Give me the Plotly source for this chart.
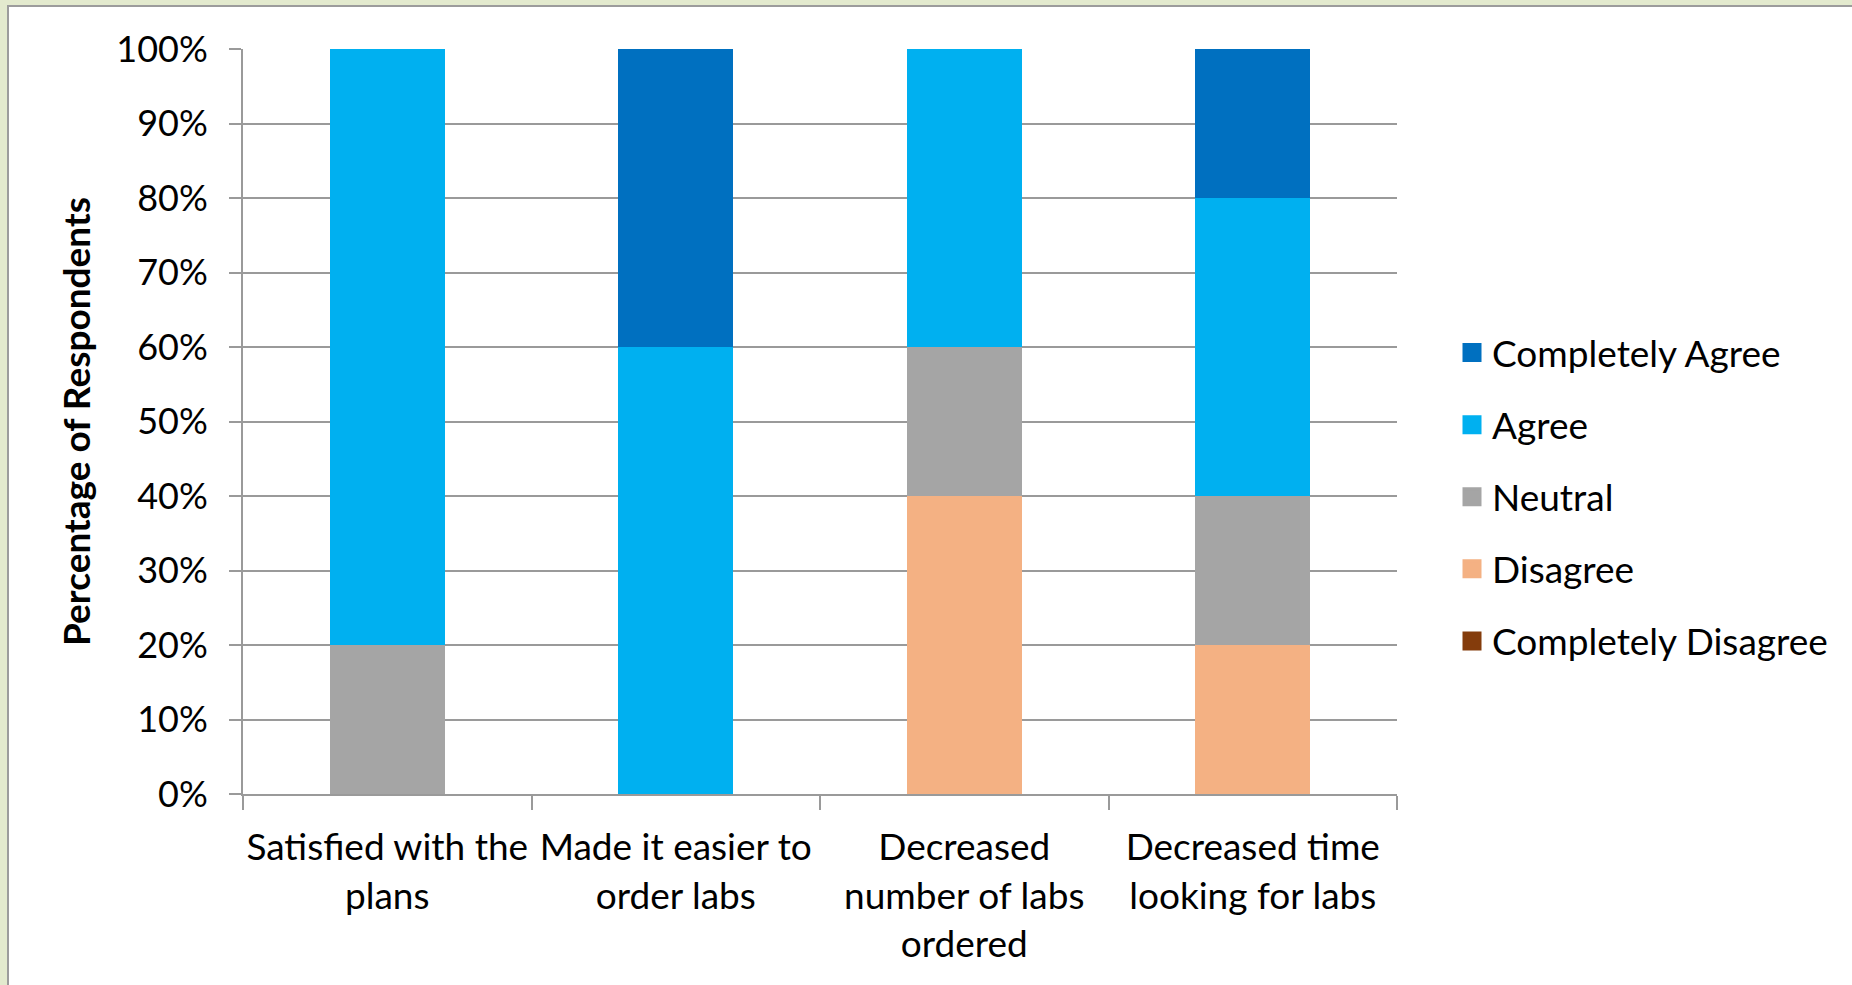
import plotly.graph_objects as go

categories = [
    "Satisfied with the<br>plans",
    "Made it easier to<br>order labs",
    "Decreased<br>number of labs<br>ordered",
    "Decreased time<br>looking for labs",
]
# stacked from bottom to top
series_names = ["Completely Disagree", "Disagree", "Neutral", "Agree", "Completely Agree"]
completely_disagree = [0, 0, 0, 0]
disagree = [0, 0, 40, 20]
neutral = [20, 0, 20, 20]
agree = [80, 60, 40, 40]
completely_agree = [0, 40, 0, 20]
series_values = [completely_disagree, disagree, neutral, agree, completely_agree]
series_colors = ["#843c0c", "#f4b183", "#a5a5a5", "#00b0f0", "#0070c0"]
y_tickvals = [0, 10, 20, 30, 40, 50, 60, 70, 80, 90, 100]
y_ticktext = [f"{v}%" for v in y_tickvals]

FONT = "Lato"
FS = 37
FS_TICK = 36
W, H = 1852, 985
L, R, T, B = 243, 455, 49, 191
PW, PH = W - L - R, H - T - B

fig = go.Figure()
for name, vals, col in zip(series_names, series_values, series_colors):
    fig.add_trace(go.Bar(
        x=categories, y=vals, name=name, legendgroup=name, showlegend=False,
        marker=dict(color=col, line=dict(width=0)),
    ))
# legend entries (top-to-bottom: Completely Agree ... Completely Disagree)
for name, col in zip(series_names[::-1], series_colors[::-1]):
    fig.add_trace(go.Scatter(
        x=[None], y=[None], mode="markers", name=name, legendgroup=name,
        marker=dict(symbol="square", size=16, color=col, line=dict(width=3, color=col)),
        showlegend=True,
    ))

def px_x(px):
    return (px - L) / PW

def px_y(py):
    return (H - B - py) / PH

shapes = [
    dict(type="rect", xref="paper", yref="paper", layer="below",
         x0=px_x(8), x1=px_x(1900), y0=px_y(1000), y1=px_y(6),
         fillcolor="white", line=dict(color="#9c9c9c", width=2)),
]

fig.update_layout(
    width=W, height=H,
    margin=dict(l=L, r=R, t=T, b=B, autoexpand=False),
    barmode="stack", bargap=0.6,
    paper_bgcolor="#e3eace", plot_bgcolor="white",
    font=dict(family=FONT, size=FS, color="#000000"),
    shapes=shapes,
    showlegend=True,
    legend=dict(
        x=px_x(1452), xanchor="left", y=px_y(497), yanchor="middle",
        traceorder="grouped", tracegroupgap=21,
        font=dict(family=FONT, size=FS, color="#000000"),
        bgcolor="rgba(0,0,0,0)",
    ),
    xaxis=dict(
        type="category", showgrid=False, showline=True, linecolor="#9a9a9a", linewidth=2,
        ticks="outside", tickson="boundaries", ticklen=14, tickcolor="#9a9a9a", tickwidth=2,
        ticklabelstandoff=20, tickangle=0,
        tickfont=dict(family=FONT, size=FS, color="#000000"),
    ),
    yaxis=dict(
        range=[0, 100], tickvals=y_tickvals, ticktext=y_ticktext,
        showgrid=True, gridcolor="#9a9a9a", gridwidth=2, zeroline=False,
        showline=True, linecolor="#9a9a9a", linewidth=2,
        ticks="outside", ticklen=12, tickcolor="#9a9a9a", tickwidth=2,
        ticklabelstandoff=14,
        tickfont=dict(family=FONT, size=FS_TICK, color="#000000"),
        title=dict(text="<b>Percentage of Respondents</b>", standoff=14,
                   font=dict(family=FONT, size=FS, color="#000000")),
    ),
)

fig.write_html("out.html")
